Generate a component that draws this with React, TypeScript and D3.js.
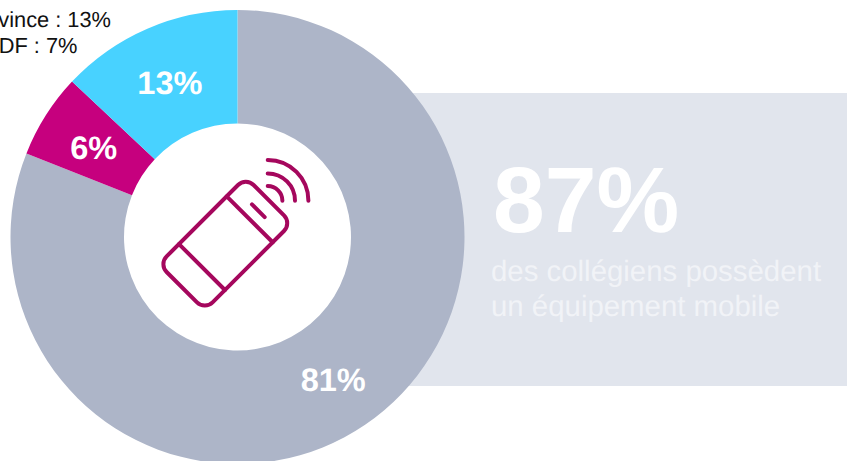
import React from "react";
import * as d3 from "d3";

const categories = ["Autres", "IDF", "Province"];
const values = [81, 6, 13];
const valueLabels = ["81%", "6%", "13%"];
const colors = ["#ADB5C8", "#C6007E", "#48D2FF"];
const noteLines = ["Province : 13%", "IDF : 7%"];
const bigFigure = "87%";
const captionLines = ["des collégiens possèdent", "un équipement mobile"];
const signalRadii = [14.7, 27.3, 40.7];

const W = 847;
const H = 461;
const cx = 237.5;
const cy = 237;
const font = "'Liberation Sans', Arial, sans-serif";
const iconColor = "#A5075D";

export default function App() {
  const pie = d3.pie<number>().sort(null).value((d) => d);
  const arc = d3.arc<d3.PieArcDatum<number>>().innerRadius(113.5).outerRadius(227);
  const arcs = pie(values);
  const signal = (r: number) => {
    const p = d3.path();
    p.arc(0, 0, r, -Math.PI / 2, 0);
    return p.toString();
  };

  return (
    <svg width={W} height={H} style={{ position: "absolute", left: 0, top: 0, display: "block" }} fontFamily={font} textRendering="geometricPrecision">
      <rect x={400} y={93} width={447} height={293} fill="#E1E5ED" />
      <text x={493} y={232} fontSize={93} fontWeight="bold" fill="#fff">{bigFigure}</text>
      {captionLines.map((t, i) => (
        <text key={t} x={491} y={281 + i * 35} fontSize={29.4} fill="#F1F3F7">{t}</text>
      ))}
      <g transform={`translate(${cx},${cy})`}>
        {arcs.map((a, i) => (
          <path key={categories[i]} d={arc(a) ?? ""} fill={colors[i]} />
        ))}
        {arcs.map((a, i) => {
          const [x, y] = arc.centroid(a);
          return (
            <text key={categories[i]} x={x} y={y + 13} textAnchor="middle" fontSize={32.5} fontWeight="bold" fill="#fff">
              {valueLabels[i]}
            </text>
          );
        })}
      </g>
      <text x={111} y={27} textAnchor="end" fontSize={21.8} fill="#111">{noteLines[0]}</text>
      <text x={77.5} y={53} textAnchor="end" fontSize={21.8} fill="#111">{noteLines[1]}</text>
      <g fill="none" stroke={iconColor} strokeWidth={4} strokeLinecap="round" strokeLinejoin="round">
        <g transform="translate(225.3,243.7) rotate(-45)">
          <rect x={-61.5} y={-32.5} width={123} height={65} rx={11} />
          <line x1={-33} y1={-32.5} x2={-33} y2={32.5} />
          <line x1={34.5} y1={-32.5} x2={34.5} y2={32.5} />
          <line x1={46.7} y1={-9} x2={46.7} y2={9} />
        </g>
        <g transform="translate(267.7,200.7)">
          {signalRadii.map((r) => (
            <path key={r} d={signal(r)} />
          ))}
        </g>
      </g>
    </svg>
  );
}
